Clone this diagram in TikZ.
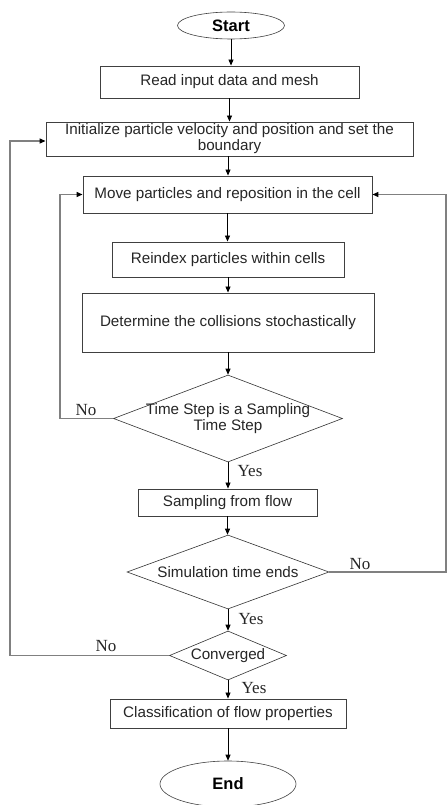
\documentclass[tikz,border=0pt]{standalone}
\usepackage{fontspec}
\setmainfont{Liberation Serif}
\newfontfamily\arialf{Liberation Sans}
\usetikzlibrary{shapes.geometric,arrows.meta}
\definecolor{boxline}{HTML}{404040}
\definecolor{loopline}{HTML}{808080}
\tikzset{
  proc/.style={draw=boxline, line width=0.9pt, rectangle, inner sep=0pt, font=\arialf\fontsize{15.2}{17}\selectfont, text=black!85, align=center},
  term/.style={draw=boxline, line width=0.6pt, ellipse, inner sep=0pt, font=\arialf\bfseries\fontsize{16.5}{18}\selectfont},
  dec/.style={draw=black!80, line width=0.6pt, diamond, inner sep=0pt, aspect=1},
  dectext/.style={font=\arialf\fontsize{15.2}{17}\selectfont, text=black!85, align=center, inner sep=0pt},
  flow/.style={draw=black, line width=0.8pt, -{Triangle[length=6pt,width=5pt]}},
  back/.style={draw=loopline, line width=1.3pt, -{Triangle[length=6pt,width=5pt,color=black]}},
  lab/.style={font=\fontsize{17}{19}\selectfont, inner sep=0pt, text=black!85}
}
\begin{document}
\begin{tikzpicture}[x=1pt,y=-1pt]
\useasboundingbox[fill=white] (0,0) rectangle (447,805);
\node[term, minimum width=107, minimum height=27] (start) at (231,25.5) {Start};
\node[proc, minimum width=259, minimum height=32] (read) at (229.5,82) {Read input data and mesh};
\node[proc, minimum width=367, minimum height=34] (init) at (229.5,139) {Initialize particle velocity and position and set the\\[-1pt]boundary};
\node[proc, minimum width=289, minimum height=37] (move) at (227.5,194.5) {Move particles and reposition in the cell};
\node[proc, minimum width=232, minimum height=35] (reindex) at (228,259.5) {Reindex particles within cells};
\node[proc, minimum width=292, minimum height=59] (determine) at (228,322.5) {Determine the collisions stochastically};
\node[dec, minimum width=229, minimum height=87] (ts) at (228,418.5) {};
\node[dectext] (tstext) at (ts.center) {Time Step is a Sampling\\[-1pt]Time Step};
\node[proc, minimum width=179, minimum height=27] (sampling) at (227.5,502.5) {Sampling from flow};
\node[dec, minimum width=202, minimum height=74] (sim) at (228,572) {};
\node[dectext] (simtext) at (sim.center) {Simulation time ends};
\node[dec, minimum width=117, minimum height=49] (conv) at (228,655.5) {};
\node[dectext] (convtext) at (conv.center) {Converged};
\node[proc, minimum width=236, minimum height=29] (class) at (228,713.5) {Classification of flow properties};
\node[term, minimum width=136, minimum height=46] (end) at (228,784) {End};

\coordinate (louter) at (10,0);
\coordinate (linner) at (60,0);
\coordinate (rout) at (446,0);

\draw[flow] (start.south) -- (start.south |- read.north);
\draw[flow] (read.south) -- (read.south |- init.north);
\draw[flow] ([xshift=-1.5pt]init.south) -- ([xshift=-1.5pt]init.south |- move.north);
\draw[flow] (move.south) -- (move.south |- reindex.north);
\draw[flow] (reindex.south) -- (reindex.south |- determine.north);
\draw[flow] (determine.south) -- (determine.south |- ts.north);
\draw[flow] (ts.south) -- (ts.south |- sampling.north);
\draw[flow] (sampling.south) -- (sampling.south |- sim.north);
\draw[flow] (sim.south) -- (sim.south |- conv.north);
\draw[flow] (conv.south) -- (conv.south |- class.north);
\draw[flow] (class.south) -- (class.south |- end.north);

\draw[back] (ts.west) -- (ts.west -| linner) |- (move.west);
\draw[back] (conv.west) -- (conv.west -| louter) |- ([yshift=-2pt]init.west);
\draw[back] (sim.east) -- (sim.east -| rout) |- (move.east);

\node[lab] (no1) at (86,410) {No};
\node[lab] (yes1) at (250,471) {Yes};
\node[lab] (no2) at (360,564) {No};
\node[lab] (yes2) at (251,619) {Yes};
\node[lab] (no3) at (106,646) {No};
\node[lab] (yes3) at (254,688) {Yes};
\end{tikzpicture}
\end{document}
